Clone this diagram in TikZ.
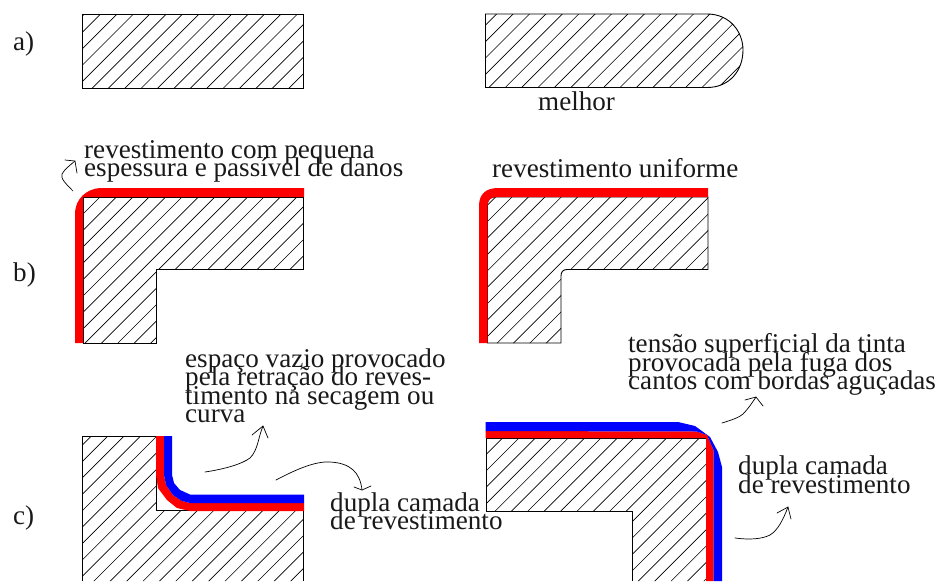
\documentclass[tikz,border=0pt]{standalone}
\usepackage{fontspec}
\setmainfont{Liberation Serif}
\usetikzlibrary{arrows.meta}
\lineskiplimit=-100pt
\normallineskiplimit=-100pt
\tikzset{
  hatchline/.style={black,line width=0.65pt},
  outline/.style={black,line width=0.9pt,line join=miter},
  coat/.style={fill=red,draw=none},
  coatb/.style={fill=blue,draw=none},
  lbl/.style={inner sep=0pt,anchor=base west,align=left,font=\fontsize{27.1}{18.4}\selectfont,text=black!90},
  hand/.style={black,line width=0.7pt,line cap=round,line join=round}
}
\newcommand{\hatchfill}[2]{%
  \begin{scope}
    \clip #2;
    \foreach \k in {-60,...,80}{\draw[hatchline] ({#1+\k*16.4},0) -- (0,{#1+\k*16.4});}
  \end{scope}}
\begin{document}
\begin{tikzpicture}[x=1pt,y=-1pt]
\useasboundingbox (0,0) rectangle (939,581);
% a left
\hatchfill{114.7}{(82.5,14) rectangle (303.5,88)}
\draw[outline] (82.5,14) rectangle (303.5,88);
% a right
\def\ar{(485.5,14) -- (707,14) .. controls (730,14) and (743,32) .. (743,50) .. controls (743,70) and (730,87.5) .. (707,87.5) -- (485.5,87.5) -- cycle}
\hatchfill{510.7}{\ar}
\draw[outline] \ar;
% b left
\def\bl{(83,197) -- (303.5,197) -- (303.5,269.5) -- (156.5,269.5) -- (156.5,343) -- (83,343) -- cycle}
\hatchfill{297}{\bl}
\draw[outline] \bl;
\fill[coat] (75,343) -- (75,212) .. controls (76,199) and (86,189) .. (100,188) -- (304,188) -- (304,197) -- (83,197) -- (83,343) -- cycle;
% b right
\def\br{(487.5,204) .. controls (487.5,199) and (490,197) .. (495,197) -- (708,197) -- (708,269.5) -- (567,269.5) .. controls (563,269.5) and (561,272) .. (561,276) -- (561,343) -- (487.5,343) -- cycle}
\hatchfill{709}{\br}
\draw[outline] \br;
\fill[coat] (479,343) -- (479,206) .. controls (479,194) and (486,188) .. (498,188) -- (708,188) -- (708,197) -- (497,197) .. controls (491,197) and (487.5,200) .. (487.5,206) -- (487.5,343) -- cycle;
% c left
\hatchfill{543.8}{(82.5,436.5) -- (156.5,436.5) -- (156.5,510.5) -- (303.5,510.5) -- (303.5,581) -- (82.5,581) -- cycle}
\draw[outline] (82.5,581) -- (82.5,436.5) -- (156.5,436.5) -- (156.5,510.5) -- (303.5,510.5) -- (303.5,581);
\fill[coat] (156,436) -- (156,475) -- (158,488) -- (167,500) -- (177,508) -- (190,511) -- (304,511) -- (304,503) -- (190,503) -- (182,501) -- (173,495) -- (166,485) -- (164,475) -- (164,436) -- cycle;
\fill[coatb] (164,436) -- (164,475) -- (166,485) -- (173,495) -- (182,501) -- (190,503) -- (304,503) -- (304,494.5) -- (190,494.5) -- (180,490) -- (174,483) -- (172,475) -- (172,436) -- cycle;
% c right
\hatchfill{940.6}{(486,438) -- (706,438) -- (706,581) -- (632.7,581) -- (632.7,511) -- (486,511) -- cycle}
\draw[outline] (486,511) -- (486,438) -- (706,438) -- (706,581);
\draw[outline] (486,511) -- (632.7,511) -- (632.7,581);
\fill[coat] (485.5,438) -- (706,438) -- (706,581) -- (713.5,581) -- (713.5,450) -- (707,435) -- (697,431.5) -- (485.5,431) -- cycle;
\fill[coatb] (485.5,431) -- (697,431.5) -- (707,435) -- (713.5,450) -- (713.5,581) -- (722,581) -- (722,467) -- (718,452) -- (710,437) -- (695,426) -- (678,422) -- (485.5,422) -- cycle;
% labels
\node[lbl] (la) at (13,50) {a)};
\node[lbl] (lb) at (13,281) {b)};
\node[lbl] (lc) at (13,524.5) {c)};
\node[lbl] (melhor) at (538,110) {melhor};
\node[lbl] (unif) at (492,177) {revestimento uniforme};
\node[lbl] (t1) at (84,176.7) {revestimento com pequena\\espessura e passível de danos};
\node[lbl] (t2) at (185,422.7) {espaço vazio provocado\\pela retração do reves-\\timento na secagem ou\\curva};
\node[lbl] (t3) at (330,529.5) {dupla camada\\de revestimento};
\node[lbl] (t4) at (628,389.5) {tensão superficial da tinta\\provocada pela fuga dos\\cantos com bordas aguçadas};
\node[lbl] (t5) at (738,493) {dupla camada\\de revestimento};
% hand-drawn arrows
\coordinate (s1) at (73,191); \coordinate (e1) at (75,161);
\coordinate (s2) at (205,472); \coordinate (e2) at (263,426);
\coordinate (s3) at (276,480); \coordinate (e3) at (362,490);
\coordinate (s4) at (722,423); \coordinate (e4) at (756,397);
\coordinate (s5) at (735,538); \coordinate (e5) at (788,507);
\draw[hand] (s1) .. controls (66,184) and (60,178) .. (62,174) .. controls (64,170) and (70,165) .. (e1);
\draw[hand] (65,160) -- (e1) -- (77,173);
\draw[hand] (s2) .. controls (225,469) and (242,464) .. (250,458) .. controls (258,450) and (258,438) .. (e2);
\draw[hand] (252,435) -- (e2) -- (268,438);
\draw[hand] (s3) .. controls (295,470) and (315,461) .. (330,462) .. controls (350,463) and (360,472) .. (e3);
\draw[hand] (354,487) -- (e3) -- (371,486);
\draw[hand] (s4) .. controls (732,420) and (740,417) .. (743,414) .. controls (748,409) and (752,403) .. (e4);
\draw[hand] (745,400) -- (e4) -- (763,406);
\draw[hand] (s5) .. controls (750,540) and (762,539) .. (770,535) .. controls (778,530) and (783,520) .. (e5);
\draw[hand] (777,513) -- (e5) -- (791,519);
\end{tikzpicture}
\end{document}
